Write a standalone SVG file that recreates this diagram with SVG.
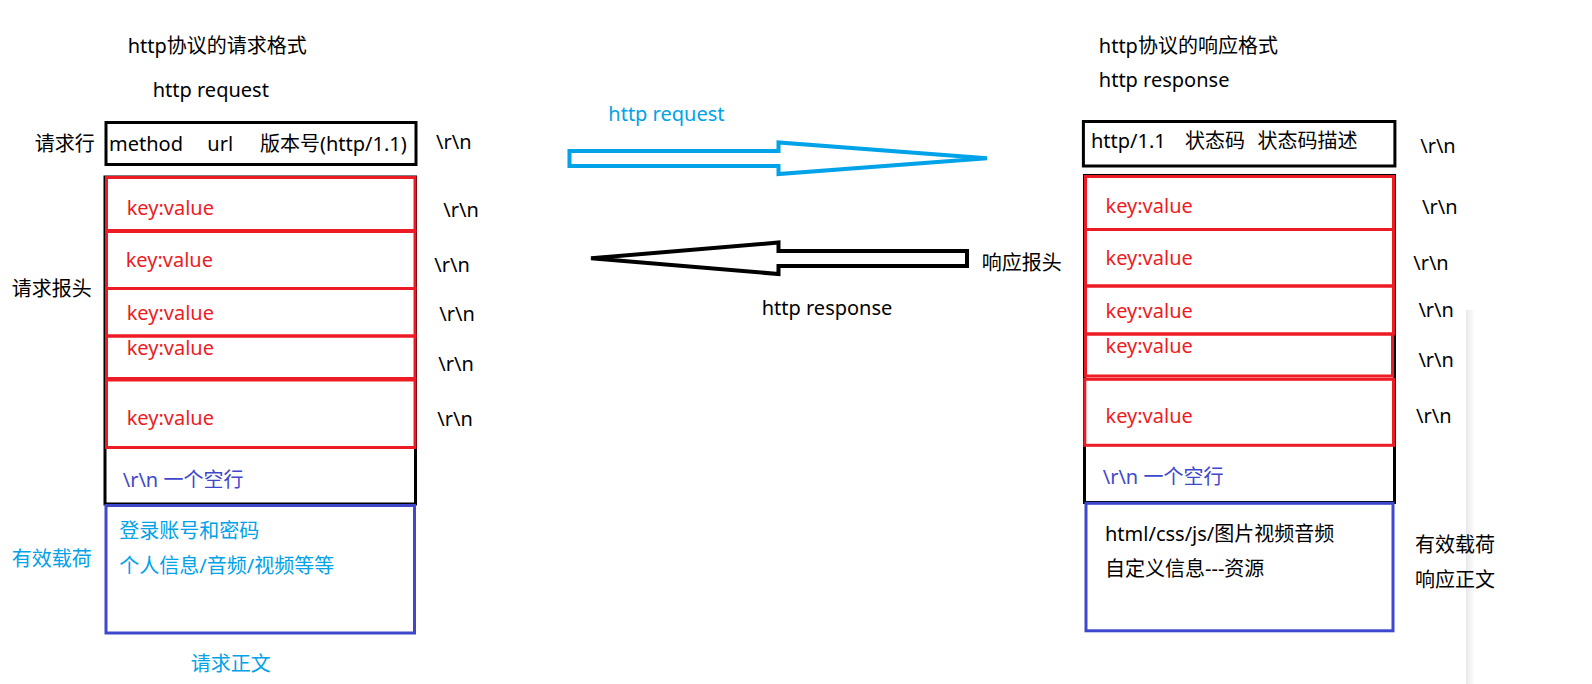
<svg xmlns="http://www.w3.org/2000/svg" width="1592" height="684" viewBox="0 0 1592 684">
<defs>
<style>
text{font-family:"Noto Sans","Noto Sans CJK SC",sans-serif;font-size:20px;fill:#000}
.red{fill:#ed1c24}
.blue{fill:#3f48cc}
.cyan{fill:#00a2e8}
.bk{fill:none;stroke:#000;stroke-width:3}
.rb{fill:none;stroke:#ed1c24;stroke-width:3}
.bb{fill:none;stroke:#3f48cc;stroke-width:3}
</style>
<linearGradient id="sh" x1="0" y1="0" x2="1" y2="0">
<stop offset="0" stop-color="#e8e8e8"/>
<stop offset="1" stop-color="#ffffff"/>
</linearGradient>
</defs>
<rect width="1592" height="684" fill="#fff"/>
<rect x="1466" y="310" width="9" height="374" fill="url(#sh)"/>

<g id="request">
<text x="127.7" y="53">http协议的请求格式</text>
<text x="152.7" y="97">http request</text>
<g id="req-line">
<text x="34.7" y="150.7">请求行</text>
<rect class="bk" x="106" y="122.5" width="310" height="42"/>
<text x="109" y="150.7">method</text>
<text x="207.3" y="150.7">url</text>
<text x="260" y="150.7">版本号(http/1.1)</text>
<text x="436" y="149.3">\r\n</text>
</g>
<g id="req-headers">
<text x="11.7" y="296">请求报头</text>
<rect class="bk" x="105" y="177" width="310.5" height="327"/>
<rect class="rb" x="106.5" y="177.5" width="308.5" height="53"/>
<rect class="rb" x="106.5" y="231.5" width="308.5" height="57"/>
<rect class="rb" x="106.5" y="288.5" width="308.5" height="47.5"/>
<rect class="rb" x="106.5" y="336" width="308.5" height="42.5"/>
<rect class="rb" x="106.5" y="380" width="308.5" height="67.5"/>
<text class="red" x="126.7" y="215">key:value</text>
<text class="red" x="125.7" y="266.7">key:value</text>
<text class="red" x="126.7" y="320">key:value</text>
<text class="red" x="126.7" y="355">key:value</text>
<text class="red" x="126.7" y="425">key:value</text>
<text x="443.3" y="216.7">\r\n</text>
<text x="434.3" y="271.7">\r\n</text>
<text x="439.3" y="320.7">\r\n</text>
<text x="438.3" y="370.7">\r\n</text>
<text x="437.3" y="426">\r\n</text>
<text class="blue" x="122.7" y="486.7">\r\n 一个空行</text>
</g>
<g id="req-body">
<rect class="bb" x="106" y="505.5" width="308.5" height="127.5"/>
<text class="cyan" x="119.3" y="538.3">登录账号和密码</text>
<text class="cyan" x="119.3" y="573.3">个人信息/音频/视频等等</text>
<text class="cyan" x="11.7" y="566">有效载荷</text>
<text class="cyan" x="190.7" y="671">请求正文</text>
</g>
</g>

<g id="connectors">
<polygon points="569.5,151 778.5,151 778.5,142.5 987,158.3 778.5,174 778.5,166 569.5,166" fill="none" stroke="#00a2e8" stroke-width="4"/>
<text class="cyan" x="608.3" y="120.7">http request</text>
<polygon points="591,258.3 778.5,242.5 778.5,251 967,251 967,266 778.5,266 778.5,274" fill="none" stroke="#000" stroke-width="4"/>
<text x="761.7" y="315">http response</text>
<text x="981.7" y="270">响应报头</text>
</g>

<g id="response">
<text x="1098.8" y="53.3">http协议的响应格式</text>
<text x="1098.8" y="86.7">http response</text>
<g id="resp-line">
<rect class="bk" x="1083.4" y="121.5" width="311.5" height="44.5"/>
<text x="1091" y="148.3">http/1.1</text>
<text x="1185" y="148.3">状态码</text>
<text x="1257.6" y="148.3">状态码描述</text>
<text x="1420.2" y="153.3">\r\n</text>
</g>
<g id="resp-headers">
<rect class="bk" x="1084.5" y="175.5" width="310" height="327"/>
<rect class="rb" x="1085.5" y="176.5" width="308" height="53"/>
<rect class="rb" x="1085.5" y="229.5" width="308" height="56.5"/>
<rect class="rb" x="1085.5" y="286" width="308" height="48"/>
<rect class="rb" x="1085.5" y="334" width="307" height="42"/>
<rect class="rb" x="1084.8" y="379.3" width="308.7" height="66"/>
<text class="red" x="1105.5" y="212.7">key:value</text>
<text class="red" x="1105.5" y="265">key:value</text>
<text class="red" x="1105.5" y="318.3">key:value</text>
<text class="red" x="1105.5" y="353.3">key:value</text>
<text class="red" x="1105.5" y="422.7">key:value</text>
<text x="1422" y="214.3">\r\n</text>
<text x="1413.2" y="270">\r\n</text>
<text x="1418.4" y="317.3">\r\n</text>
<text x="1418.4" y="367.3">\r\n</text>
<text x="1416" y="423.3">\r\n</text>
<text class="blue" x="1102.7" y="484">\r\n 一个空行</text>
</g>
<g id="resp-body">
<rect class="bb" x="1086" y="503.3" width="307" height="127.5"/>
<text x="1105" y="541">html/css/js/图片视频音频</text>
<text x="1105" y="576">自定义信息---资源</text>
<text x="1415" y="551.7">有效载荷</text>
<text x="1415" y="586.7">响应正文</text>
</g>
</g>
</svg>
